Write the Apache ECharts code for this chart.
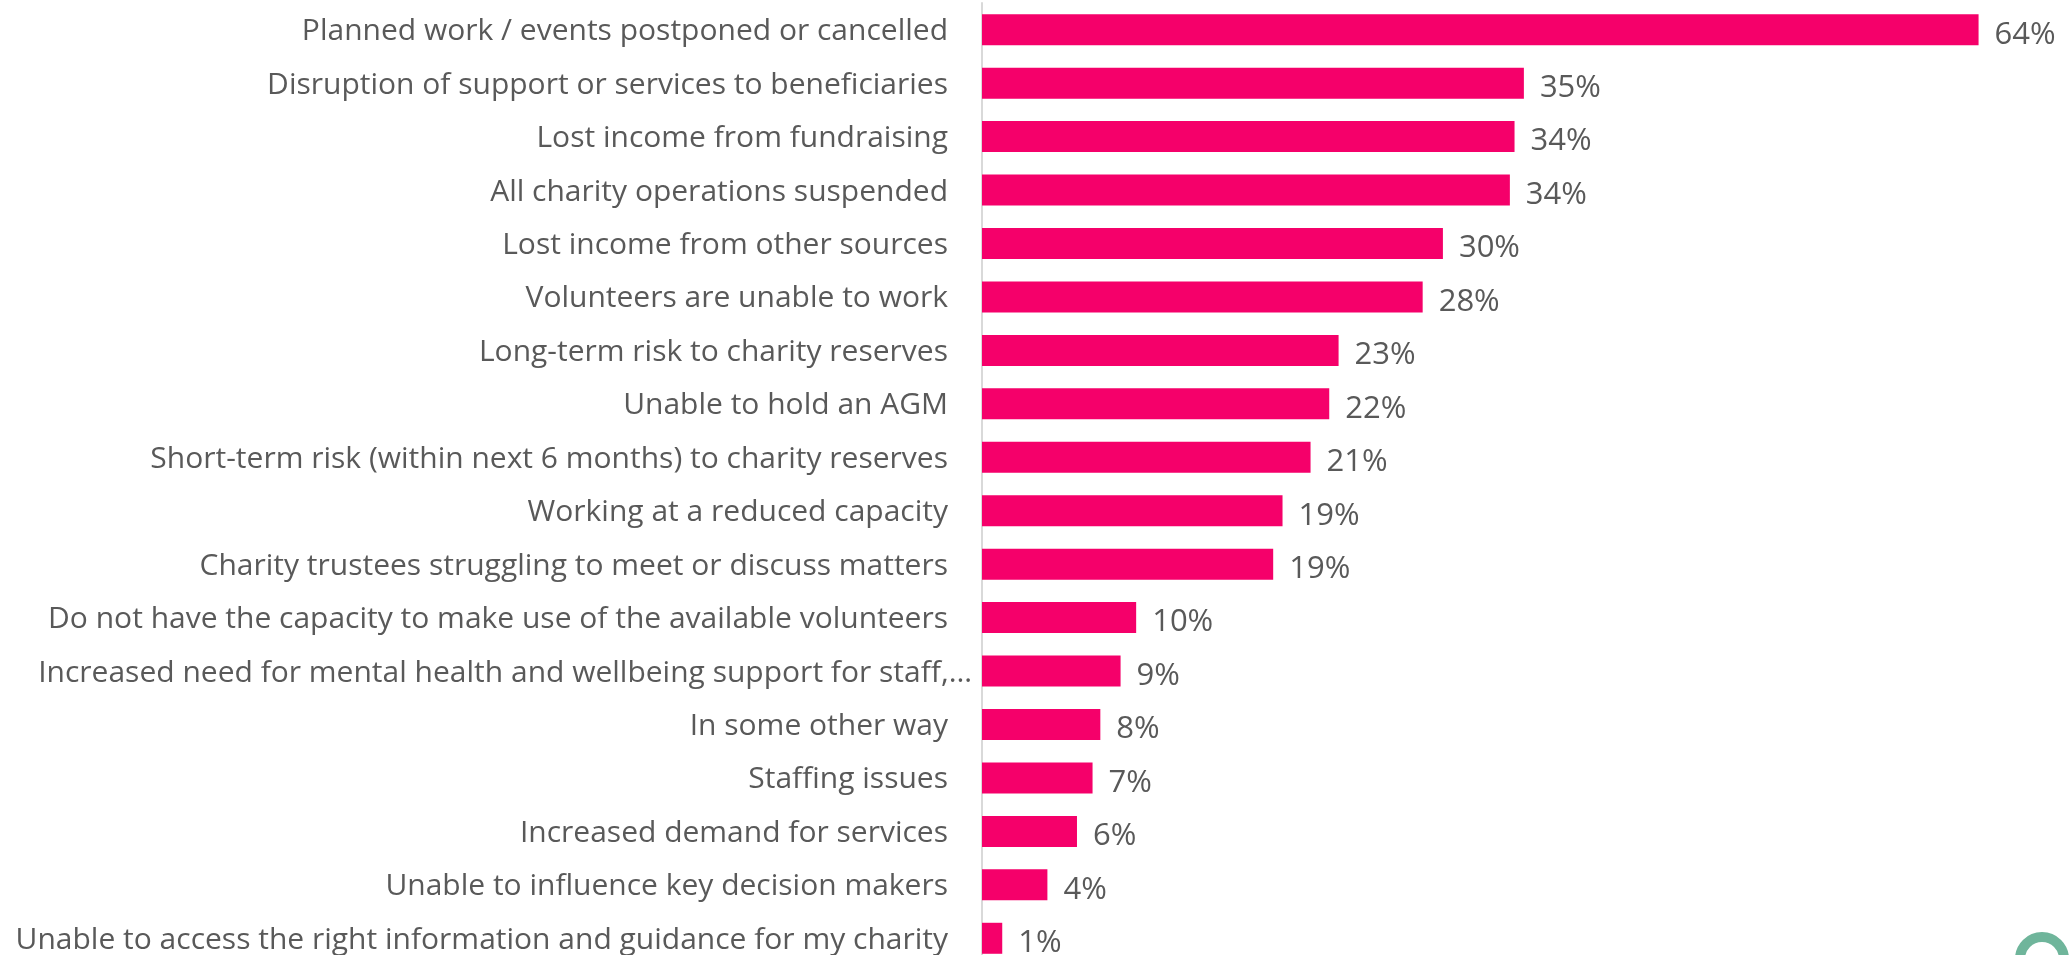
<!DOCTYPE html>
<html>
<head>
<meta charset="utf-8">
<style>
  html, body { margin: 0; padding: 0; background: #fff; overflow: hidden; }
  #chart { width: 2072px; height: 955px; }
</style>
</head>
<body>
<div id="chart"></div>
<script src="https://cdn.jsdelivr.net/npm/echarts@6/dist/echarts.min.js"></script>
<script>
const categories = [
  'Planned work / events postponed or cancelled',
  'Disruption of support or services to beneficiaries',
  'Lost income from fundraising',
  'All charity operations suspended',
  'Lost income from other sources',
  'Volunteers are unable to work',
  'Long-term risk to charity reserves',
  'Unable to hold an AGM',
  'Short-term risk (within next 6 months) to charity reserves',
  'Working at a reduced capacity',
  'Charity trustees struggling to meet or discuss matters',
  'Do not have the capacity to make use of the available volunteers',
  'Increased need for mental health and wellbeing support for staff,…',
  'In some other way',
  'Staffing issues',
  'Increased demand for services',
  'Unable to influence key decision makers',
  'Unable to access the right information and guidance for my charity'
]
const values = [64, 34.8, 34.2, 33.9, 29.6, 28.3, 22.9, 22.3, 21.1, 19.3, 18.7, 9.9, 8.9, 7.6, 7.1, 6.1, 4.2, 1.3]

const chart = echarts.init(document.getElementById('chart'))
const fontFamily = '"Open Sans", "Noto Sans", sans-serif'

chart.setOption({
  animation: false,
  grid: { left: 982, top: 3, width: 1090, height: 962, outerBoundsMode: 'none', containLabel: false },
  xAxis: { type: 'value', min: 0, max: 70, show: false },
  yAxis: {
    type: 'category',
    inverse: true,
    data: categories,
    axisLine: { show: true, lineStyle: { color: '#d9d9d9', width: 2 } },
    axisTick: { show: false },
    splitLine: { show: false },
    axisLabel: {
      margin: 10,
      interval: 0,
      formatter: (v) => v.endsWith('…') ? `{long|${v}}` : `{normal|${v}}`,
      rich: {
        normal: { fontFamily, fontSize: 30, color: '#595959', padding: [4, 24, 0, 0] },
        long: { fontFamily, fontSize: 30, color: '#595959', padding: [4, 0, 0, 0] }
      }
    }
  },
  series: [{
    type: 'bar',
    data: values,
    barWidth: 31,
    itemStyle: { color: '#f5006a' },
    label: {
      show: true,
      position: 'right',
      distance: 16,
      offset: [0, 5],
      fontFamily,
      fontSize: 31,
      color: '#595959',
      formatter: (p) => Math.round(p.value) + '%'
    }
  }],
  graphic: [{
    type: 'arc',
    shape: { cx: 2042, cy: 959, r: 22, startAngle: 0, endAngle: Math.PI * 2 },
    style: { fill: null, stroke: '#6fb59b', lineWidth: 10 }
  }]
})
</script>
</body>
</html>
